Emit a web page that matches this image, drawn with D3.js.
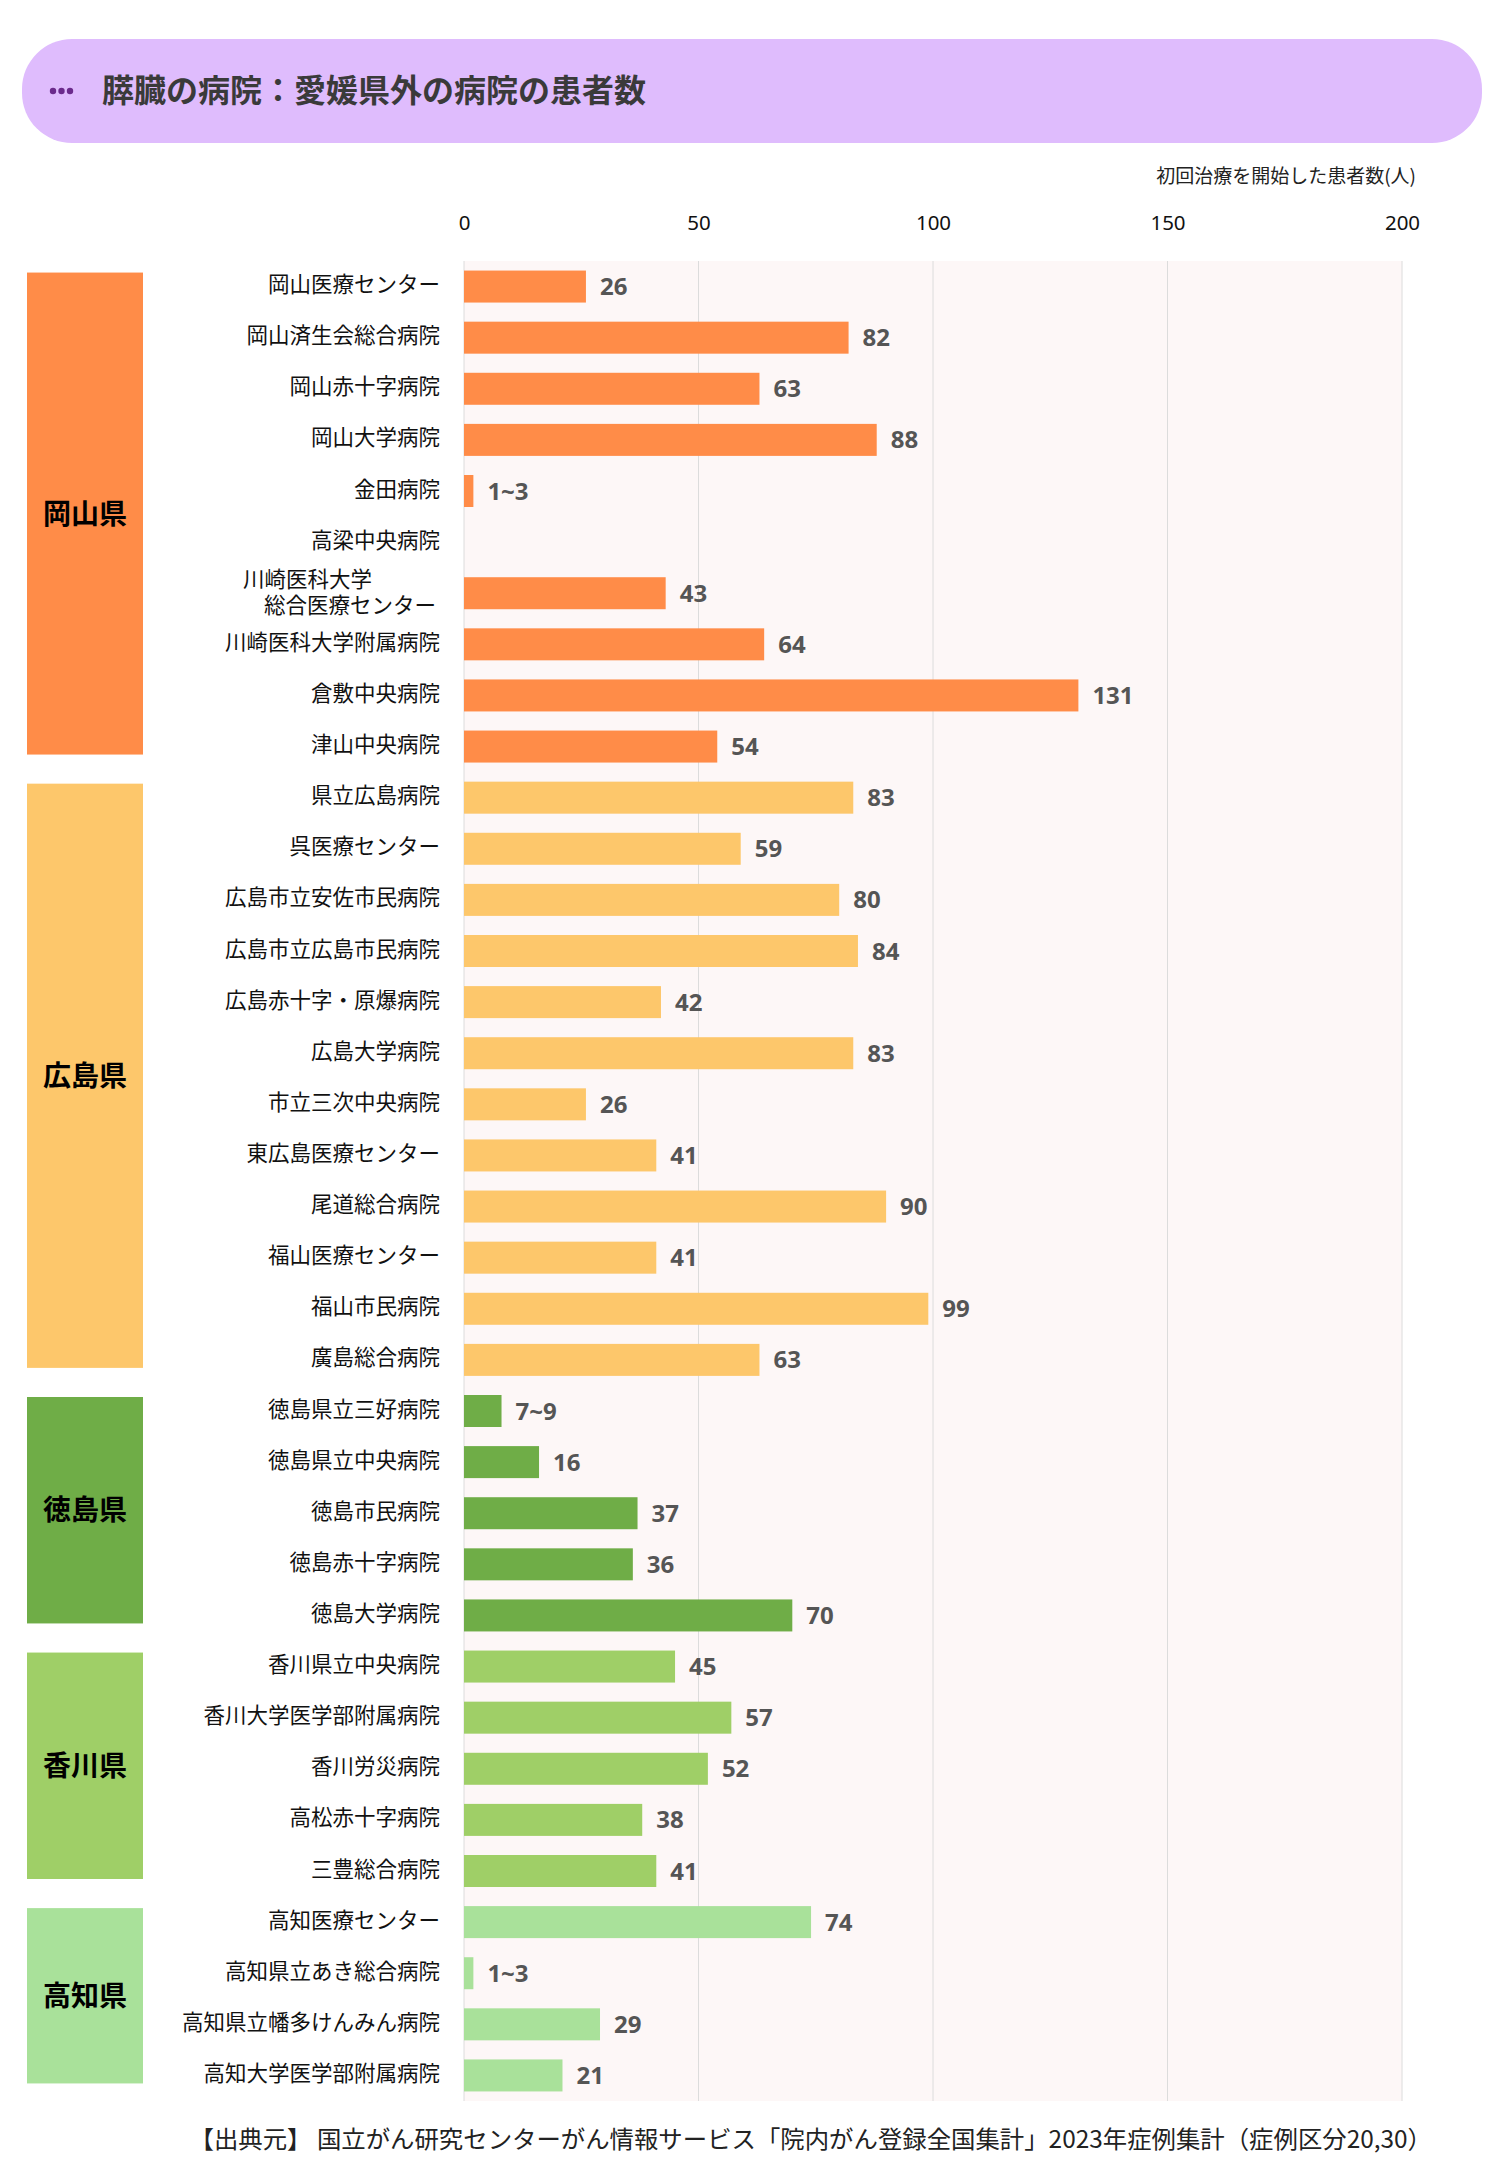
<!DOCTYPE html>
<html>
<head>
<meta charset="utf-8">
<script src="https://cdn.jsdelivr.net/npm/d3@7"></script>
<style>
body { margin:0; background:#fff; }
text { font-family:"Noto Sans CJK JP","Noto Sans",sans-serif; }
</style>
</head>
<body>
<svg width="1500" height="2160"></svg>
<script>
// dati
var ospedali = [
	"岡山医療センター","岡山済生会総合病院","岡山赤十字病院","岡山大学病院","金田病院","高梁中央病院",
	"川崎医科大学\n総合医療センター","川崎医科大学附属病院","倉敷中央病院","津山中央病院",
	"県立広島病院","呉医療センター","広島市立安佐市民病院","広島市立広島市民病院","広島赤十字・原爆病院",
	"広島大学病院","市立三次中央病院","東広島医療センター","尾道総合病院","福山医療センター","福山市民病院","廣島総合病院",
	"徳島県立三好病院","徳島県立中央病院","徳島市民病院","徳島赤十字病院","徳島大学病院",
	"香川県立中央病院","香川大学医学部附属病院","香川労災病院","高松赤十字病院","三豊総合病院",
	"高知医療センター","高知県立あき総合病院","高知県立幡多けんみん病院","高知大学医学部附属病院"
];
// valori (per 1~3 e 7~9 la barra usa il valore centrale)
var valori = [26,82,63,88,2,null,43,64,131,54,
	83,59,80,84,42,83,26,41,90,41,99,63,
	8,16,37,36,70,
	45,57,52,38,41,
	74,2,29,21];
var etichette = ["26","82","63","88","1~3","","43","64","131","54",
	"83","59","80","84","42","83","26","41","90","41","99","63",
	"7~9","16","37","36","70",
	"45","57","52","38","41",
	"74","1~3","29","21"];
var prefetture = ["岡山県","広島県","徳島県","香川県","高知県"];
var conteggi = [10,12,5,5,4];
var tacche = [0,50,100,150,200];

var svg = d3.select("svg");

var colore = d3.scaleOrdinal()
	.domain(prefetture)
	.range(["#ff8c48","#fdc76b","#6fad47","#9fcf67","#a9e19a"]);

// prefettura di ogni ospedale
var prefOsp = [];
prefetture.forEach(function(p,i){
	for (var k=0;k<conteggi[i];k++) prefOsp.push(p);
});

var x = d3.scaleLinear().domain([0,200]).range([464,1402]);
var y = d3.scaleBand().domain(ospedali).range([261,2101])
	.paddingInner(0.374).paddingOuter(0.187);

/*
TITOLO
*/
svg.append("rect")
	.attr("x",22).attr("y",39)
	.attr("width",1460).attr("height",104)
	.attr("rx",50).attr("ry",50)
	.attr("fill","#dfbcfd");
svg.append("g").selectAll("circle")
	.data([0,1,2]).enter().append("circle")
	.attr("cx",function(d){ return 53+d*8.5 })
	.attr("cy",91)
	.attr("r",3.2)
	.attr("fill","#6b2a8c");
svg.append("text")
	.attr("x",102).attr("y",88)
	.attr("dominant-baseline","central")
	.style("font-size","32px")
	.style("font-weight","bold")
	.attr("fill","#3a3a3a")
	.text("膵臓の病院：愛媛県外の病院の患者数");

svg.append("text")
	.attr("x",1416).attr("y",174)
	.attr("text-anchor","end")
	.attr("dominant-baseline","central")
	.style("font-size","19px")
	.attr("fill","#222")
	.text("初回治療を開始した患者数(人)");

/*
AREA DEL GRAFICO
*/
svg.append("rect")
	.attr("x",x(0)).attr("y",261)
	.attr("width",x(200)-x(0)).attr("height",2101-261)
	.attr("fill","#fdf7f7");

svg.append("g").selectAll("line")
	.data(tacche).enter().append("line")
	.attr("x1",function(d){ return x(d) })
	.attr("x2",function(d){ return x(d) })
	.attr("y1",261).attr("y2",2101)
	.style("stroke","#dcdcdc")
	.attr("stroke-width",1);

var asse = svg.append("g")
	.attr("transform","translate(0,230)")
	.call(d3.axisTop(x).tickValues(tacche).tickSize(0).tickPadding(0));
asse.select(".domain").remove();
asse.selectAll("text")
	.style("font-size","20.5px")
	.style("font-family","'Noto Sans','Noto Sans CJK JP',sans-serif")
	.attr("fill","#111");

// riquadri delle prefetture
var inizio = 0;
var gruppi = prefetture.map(function(p,i){
	var g = {nome:p, primo:ospedali[inizio], ultimo:ospedali[inizio+conteggi[i]-1]};
	inizio += conteggi[i];
	return g;
});
var riquadri = svg.append("g").selectAll("g")
	.data(gruppi).enter().append("g");
riquadri.append("rect")
	.attr("x",27).attr("width",116)
	.attr("y",function(d){ return y(d.primo)+2 })
	.attr("height",function(d){ return y(d.ultimo)+y.bandwidth()-8-(y(d.primo)+2) })
	.attr("fill",function(d){ return colore(d.nome) });
riquadri.append("text")
	.attr("x",85)
	.attr("y",function(d){ return (y(d.primo)+2+y(d.ultimo)+y.bandwidth()-8)/2 - 2 })
	.attr("text-anchor","middle")
	.attr("dominant-baseline","central")
	.style("font-size","28px")
	.style("font-weight","bold")
	.attr("fill","#000")
	.text(function(d){ return d.nome });

// nomi degli ospedali (quello su due righe diventa due testi)
var righe = [];
ospedali.forEach(function(o){
	var parti = o.split("\n");
	var yc = y(o)+y.bandwidth()/2-4;
	if (parti.length==1){
		righe.push({t:o, x:440, y:yc});
	} else {
		righe.push({t:parti[0], x:372, y:yc-12});
		righe.push({t:parti[1], x:436, y:yc+14});
	}
});
svg.append("g").selectAll("text")
	.data(righe).enter().append("text")
	.attr("x",function(d){ return d.x })
	.attr("y",function(d){ return d.y })
	.attr("text-anchor","end")
	.attr("dominant-baseline","central")
	.style("font-size","21.5px")
	.attr("fill","#111")
	.text(function(d){ return d.t });

// barre
var dati = ospedali.map(function(o,i){
	return {nome:o, valore:valori[i], etichetta:etichette[i], pref:prefOsp[i]};
});
svg.append("g").selectAll("rect")
	.data(dati.filter(function(d){ return d.valore!=null }))
	.enter().append("rect")
	.attr("x",x(0))
	.attr("y",function(d){ return y(d.nome) })
	.attr("width",function(d){ return x(d.valore)-x(0) })
	.attr("height",y.bandwidth())
	.attr("fill",function(d){ return colore(d.pref) });

svg.append("g").selectAll("text")
	.data(dati.filter(function(d){ return d.valore!=null }))
	.enter().append("text")
	.attr("x",function(d){ return x(d.valore)+14 })
	.attr("y",function(d){ return y(d.nome)+y.bandwidth()/2-1 })
	.attr("dominant-baseline","central")
	.style("font-size","24px")
	.style("font-weight","bold")
	.style("font-family","'Noto Sans','Noto Sans CJK JP',sans-serif")
	.attr("fill","#555")
	.text(function(d){ return d.etichetta });

// fonte
svg.append("text")
	.attr("x",1432).attr("y",2137)
	.attr("text-anchor","end")
	.attr("dominant-baseline","central")
	.style("font-size","24.4px")
	.attr("fill","#222")
	.text("【出典元】 国立がん研究センターがん情報サービス「院内がん登録全国集計」2023年症例集計（症例区分20,30）");
</script>
</body>
</html>
